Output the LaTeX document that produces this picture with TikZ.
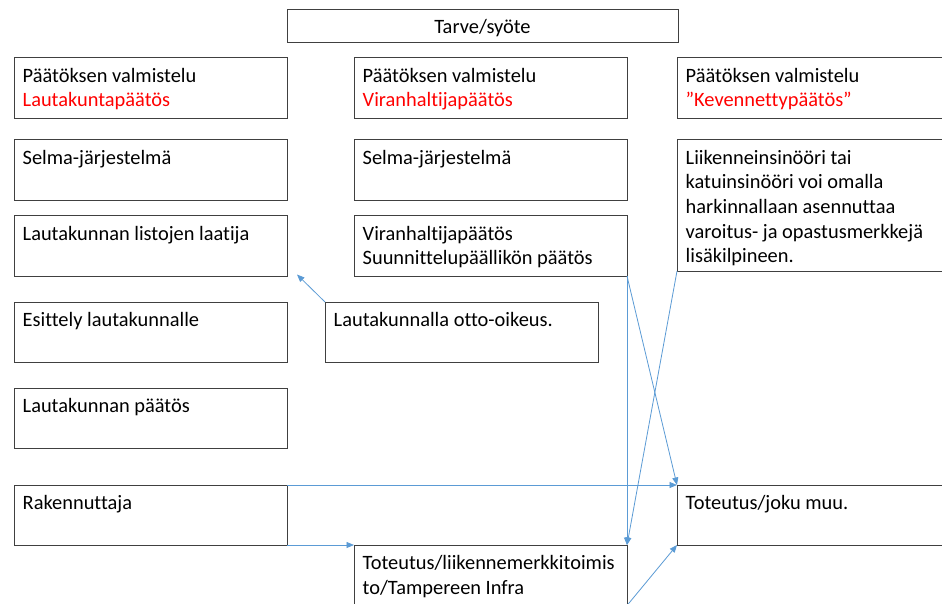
\documentclass[tikz,border=0pt]{standalone}
\usepackage{fontspec}
\setmainfont{Carlito}[Ligatures=NoCommon]
\usetikzlibrary{arrows.meta}
\definecolor{linkblue}{HTML}{5B9BD5}
\definecolor{frame}{HTML}{404040}
\definecolor{alert}{HTML}{FF0000}
\newcommand\firstline{\rule{0pt}{17pt}}
\begin{document}
\begin{tikzpicture}[x=1pt,y=-1pt,
  box/.style={draw=frame, line width=1pt, anchor=north west, inner sep=0pt,
    outer sep=0pt, minimum width=273pt, minimum height=60.5pt},
  txt/.style={anchor=north west, inner sep=0pt, align=left,
    font=\fontsize{20.4}{24.6}\selectfont},
  link/.style={draw=linkblue, line width=0.8pt,
    -{Triangle[length=7.5pt,width=6pt]}}]
\fill[white] (0,0) rectangle (942,603);
\useasboundingbox (0,0) rectangle (942,603);

% top box
\node[box, minimum width=391pt, minimum height=33.5pt] (tarve) at (287,9) {};
\node[txt, anchor=north] (tarvet) at ([shift={(0,7.5)}]tarve.north) {\firstline Tarve/syöte};

% left column
\node[box] (a1) at (14,57.5) {};
\node[box] (a2) at (14,139.5) {};
\node[box] (a3) at (14,215.5) {};
\node[box] (a4) at (14,302) {};
\node[box] (a5) at (14,388) {};
\node[box, minimum height=60pt] (a6) at (14,485) {};

% middle column
\node[box] (b1) at (354,57.5) {};
\node[box] (b2) at (354,139.5) {};
\node[box] (b3) at (354,215.5) {};
\node[box] (b4) at (325,302) {};
\node[box] (b7) at (354,545) {};

% right column
\node[box] (c1) at (677,57.5) {};
\node[box, minimum height=131.5pt] (c2) at (677,139.5) {};
\node[box, minimum height=60pt] (c6) at (677,485) {};

% texts
\tikzset{inset/.style={shift={(8.5,7.5)}}}
\node[txt] (a1t) at ([inset]a1.north west) {\firstline Päätöksen valmistelu\\\textcolor{alert}{Lautakuntapäätös}};
\node[txt] (a2t) at ([inset]a2.north west) {\firstline Selma-järjestelmä};
\node[txt] (a3t) at ([inset]a3.north west) {\firstline Lautakunnan listojen laatija};
\node[txt] (a4t) at ([inset]a4.north west) {\firstline Esittely lautakunnalle};
\node[txt] (a5t) at ([inset]a5.north west) {\firstline Lautakunnan päätös};
\node[txt] (a6t) at ([inset]a6.north west) {\firstline Rakennuttaja};

\node[txt] (b1t) at ([inset]b1.north west) {\firstline Päätöksen valmistelu\\\textcolor{alert}{Viranhaltijapäätös}};
\node[txt] (b2t) at ([inset]b2.north west) {\firstline Selma-järjestelmä};
\node[txt] (b3t) at ([inset]b3.north west) {\firstline Viranhaltijapäätös\\Suunnittelupäällikön päätös};
\node[txt] (b4t) at ([inset]b4.north west) {\firstline Lautakunnalla otto-oikeus.};
\node[txt] (b7t) at ([inset]b7.north west) {\firstline Toteutus/liikennemerkkitoimis\\to/Tampereen Infra};

\node[txt] (c1t) at ([inset]c1.north west) {\firstline Päätöksen valmistelu\\\textcolor{alert}{”Kevennettypäätös”}};
\node[txt] (c2t) at ([inset]c2.north west) {\firstline Liikenneinsinööri tai\\katuinsinööri voi omalla\\harkinnallaan asennuttaa\\varoitus- ja opastusmerkkejä\\lisäkilpineen.};
\node[txt] (c6t) at ([inset]c6.north west) {\firstline Toteutus/joku muu.};

% connectors
\coordinate (a3tip) at (297,274.5);
\draw[link] (b4.north west) -- (a3tip);
\draw[link] (b3.south east) -- (b7.north east);
\draw[link] (c2.south west) -- (b7.north east);
\draw[link] (b3.south east) -- (c6.north west);
\draw[link] (a6.north east) -- (c6.north west);
\draw[link] (a6.south east) -- (b7.north west);
\draw[link] (b7.south east) -- (c6.south west);
\end{tikzpicture}
\end{document}
